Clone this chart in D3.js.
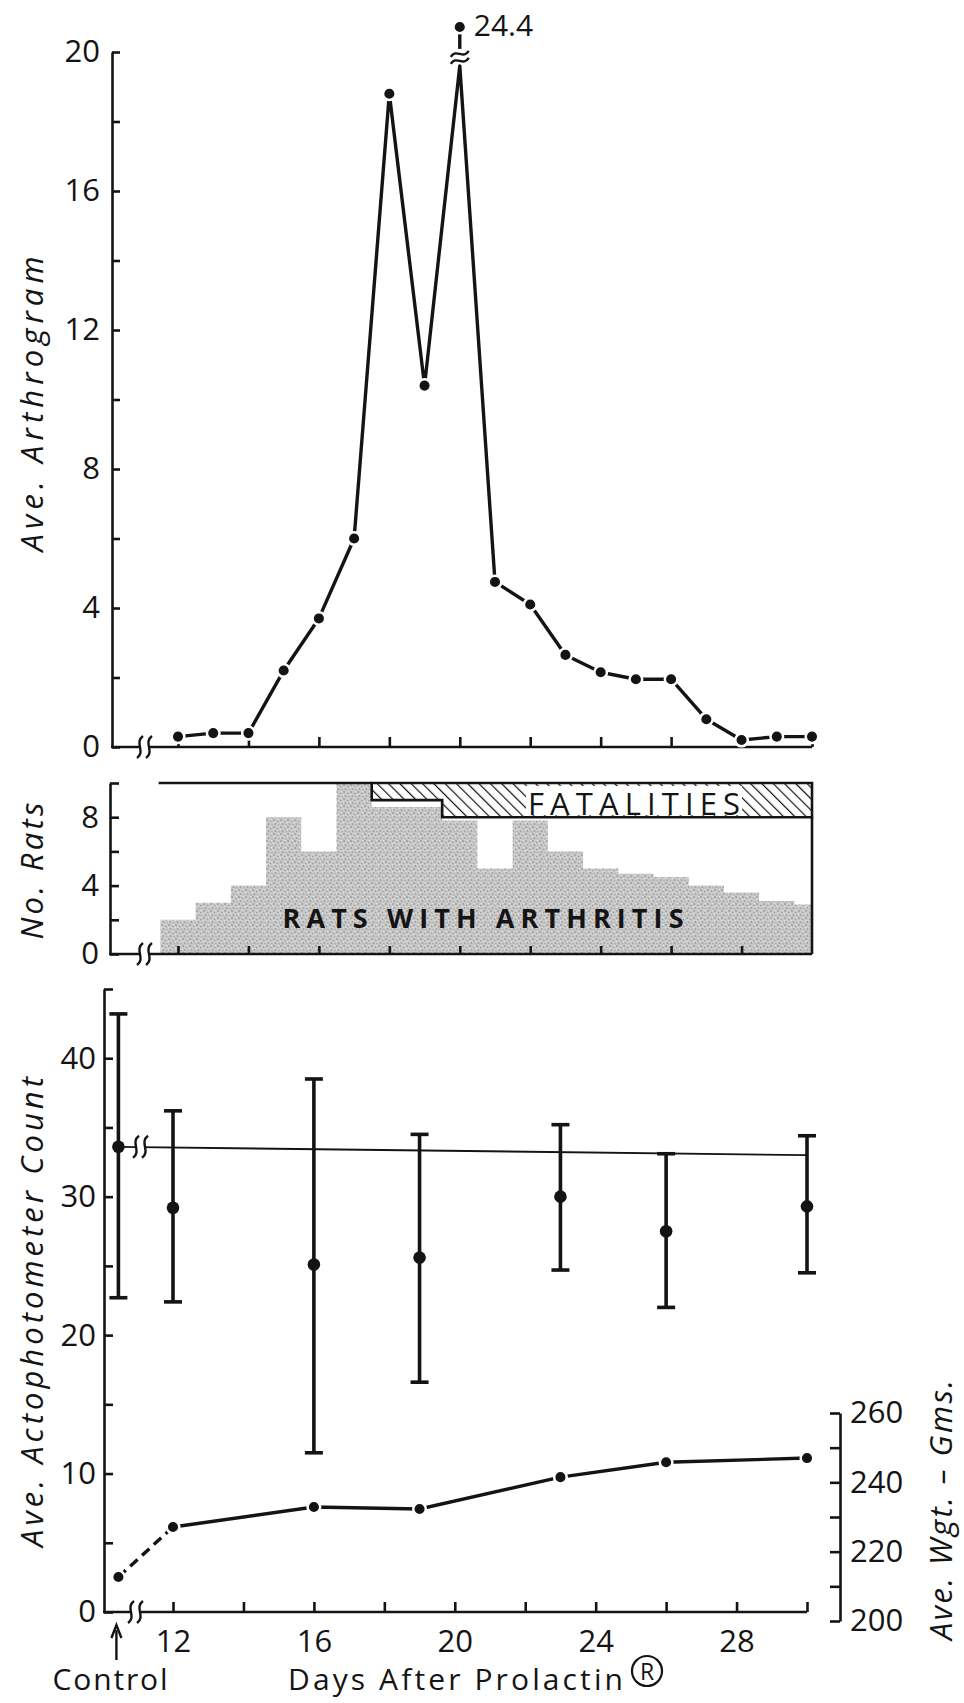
<!DOCTYPE html>
<html><head><meta charset="utf-8">
<script src="https://cdn.jsdelivr.net/npm/d3@7"></script>
<style>
html,body{margin:0;padding:0;background:#fff;}
svg{display:block;}
text{font-family:"Open Sans","DejaVu Sans",sans-serif;fill:#141414;}
</style></head><body>
<svg id="chart" width="964" height="1703"></svg>
<script>
// ---- Data ----------------------------------------------------------
// Days after Prolactin (daily observations)
const days = d3.range(12, 31);
// Average arthrogram score per day
const arthrogram = [0.3, 0.4, 0.4, 2.2, 3.7, 6.0, 18.8, 10.4, 24.4, 4.75, 4.1, 2.65, 2.15, 1.95, 1.95, 0.8, 0.2, 0.3, 0.3];
// Number of rats with arthritis per day (of 10)
const ratsWithArthritis = [2, 3, 4, 8, 6, 10, 8.6, 8.6, 7.8, 5, 7.8, 6, 5, 4.7, 4.5, 4, 3.6, 3.1, 2.9];
// Cumulative fatalities
const fatalityDays = d3.range(18, 31);
const fatalities = [1, 1, 2, 2, 2, 2, 2, 2, 2, 2, 2, 2, 2];

// Actophotometer counts (mean with range) and body weight
const actoGroups = ["Control", 12, 16, 19, 23, 26, 30];
const actoMean = [33.6, 29.2, 25.1, 25.6, 30.0, 27.5, 29.3];
const actoHigh = [43.2, 36.2, 38.5, 34.5, 35.2, 33.1, 34.4];
const actoLow  = [22.7, 22.4, 11.5, 16.6, 24.7, 22.0, 24.5];
const weightGms = [212.7, 227.1, 232.9, 232.3, 241.5, 245.8, 247.0];
// Control activity level carried across the treatment period (start, end)
const controlLevel = [33.6, 33.0];

// Tick values and labels
const arthroTicks = d3.range(0, 21, 2);
const arthroLabels = [0, 4, 8, 12, 16, 20];
const ratTicks = d3.range(0, 11, 2);
const ratLabels = [0, 4, 8];
const actoTicks = d3.range(0, 46, 5);
const actoLabels = [0, 10, 20, 30, 40];
const weightTicks = d3.range(200, 261, 10);
const weightLabels = [200, 220, 240, 260];
const dayTicks = d3.range(12, 31, 2);
const dayLabels = [12, 16, 20, 24, 28];

// ---- Setup ---------------------------------------------------------
const INK = "#141414";
const LW = 3.4;      // data line weight
const AW = 2.6;      // axis line weight
const R = 6.3;       // marker radius
const svg = d3.select("#chart");
const defs = svg.append("defs");

// stippled grey screen
const stip = defs.append("pattern").attr("id", "stipple")
  .attr("width", 7).attr("height", 7).attr("patternUnits", "userSpaceOnUse");
stip.append("rect").attr("width", 7).attr("height", 7).attr("fill", "#c8c8c8");
[[1,1,"#858585"],[4.5,2.5,"#9c9c9c"],[2.5,5,"#8f8f8f"],[6,5.8,"#ababab"],[5.5,0.3,"#e6e6e6"],[0.5,3.8,"#e2e2e2"],[3.3,3.2,"#dadada"]]
  .forEach(([cx, cy, c]) => stip.append("circle").attr("cx", cx).attr("cy", cy).attr("r", 0.8).attr("fill", c));

// diagonal hatching
const hatch = defs.append("pattern").attr("id", "hatch")
  .attr("width", 8).attr("height", 8).attr("patternUnits", "userSpaceOnUse")
  .attr("patternTransform", "rotate(-45)");
hatch.append("rect").attr("width", 8).attr("height", 8).attr("fill", "#fff");
hatch.append("line").attr("x1", 0).attr("y1", 0).attr("x2", 0).attr("y2", 8)
  .attr("stroke", INK).attr("stroke-width", 2.4);

// Break marks
function vSquiggle(g, cx, cy, h) {
  g.append("path")
    .attr("d", `M${cx + 3},${cy - h / 2} C${cx - 6},${cy - h / 5} ${cx + 6},${cy + h / 5} ${cx - 3},${cy + h / 2}`)
    .attr("fill", "none").attr("stroke", INK).attr("stroke-width", 2.4);
}
function hSquiggle(g, cx, cy, w) {
  g.append("path")
    .attr("d", `M${cx - w / 2},${cy + 3} C${cx - w / 5},${cy - 6} ${cx + w / 5},${cy + 6} ${cx + w / 2},${cy - 3}`)
    .attr("fill", "none").attr("stroke", INK).attr("stroke-width", 2.4);
}
function axisBreakH(g, cx, cy) {
  // break across a horizontal line
  g.append("rect").attr("x", cx - 5).attr("y", cy - 4).attr("width", 10).attr("height", 8).attr("fill", "#fff");
  vSquiggle(g, cx - 5, cy, 22);
  vSquiggle(g, cx + 4, cy, 22);
}
function styleAxis(g) {
  g.selectAll("path.domain").attr("stroke", INK).attr("stroke-width", AW);
  g.selectAll(".tick line").attr("stroke", INK).attr("stroke-width", AW);
  g.selectAll(".tick text").attr("font-size", 31).attr("fill", INK)
    .attr("font-family", '"Open Sans","DejaVu Sans",sans-serif');
}
function rotLabel(x, y, txt, len) {
  svg.append("text").attr("transform", `translate(${x},${y}) rotate(-90)`)
    .attr("text-anchor", "middle").attr("font-size", 31).style("font-style", "italic")
    .attr("textLength", len).attr("lengthAdjust", "spacing").text(txt);
}

// ---- Panel 1: average arthrogram ----------------------------------
const xTop = d3.scaleLinear().domain([12, 30]).range([178, 812]);
const yTopAxis = d3.scaleLinear().domain([0, 20]).range([747, 52]);
// broken scale: values beyond 20 are compressed above the break
const yTop = d3.scaleLinear().domain([0, 20, 24.4]).range([747, 52, 27]);
const ARTHRO_CAP = 19.6;

const p1 = svg.append("g");
p1.append("g").attr("transform", "translate(112,0)")
  .call(d3.axisLeft(yTopAxis).tickValues(arthroTicks).tickSize(-8).tickSizeOuter(0).tickPadding(12)
    .tickFormat(d => arthroLabels.includes(d) ? d : ""))
  .call(styleAxis);
p1.append("line").attr("x1", 111).attr("x2", xTop(30)).attr("y1", yTop(0)).attr("y2", yTop(0))
  .attr("stroke", INK).attr("stroke-width", AW);
p1.append("g").attr("transform", `translate(0,${yTop(0)})`)
  .call(d3.axisBottom(xTop).tickValues(dayTicks).tickSize(-10).tickSizeOuter(0).tickFormat(""))
  .call(g => g.select(".domain").remove())
  .call(styleAxis);
axisBreakH(p1, 145, yTop(0));

const arthroPts = days.map((d, i) => ({ d, v: arthrogram[i] }));
p1.append("path")
  .attr("d", d3.line().x(p => xTop(p.d)).y(p => yTop(Math.min(p.v, ARTHRO_CAP)))(arthroPts))
  .attr("fill", "none").attr("stroke", INK).attr("stroke-width", LW).attr("stroke-linejoin", "round");
// break on the off-scale peak
const peak = arthroPts.find(p => p.v > 20);
const px = xTop(peak.d);
p1.append("rect").attr("x", px - 12).attr("y", yTop(ARTHRO_CAP) - 14).attr("width", 24).attr("height", 12).attr("fill", "#fff");
hSquiggle(p1, px, yTop(ARTHRO_CAP) - 5, 18);
hSquiggle(p1, px, yTop(ARTHRO_CAP) - 12, 18);
p1.append("line").attr("x1", px).attr("x2", px).attr("y1", yTop(ARTHRO_CAP) - 17).attr("y2", yTop(peak.v) + 6)
  .attr("stroke", INK).attr("stroke-width", LW);
p1.selectAll("circle.ar").data(arthroPts).join("circle").attr("class", "ar")
  .attr("cx", p => xTop(p.d)).attr("cy", p => yTop(p.v)).attr("r", R)
  .attr("fill", INK).attr("stroke", "#fff").attr("stroke-width", 2.5);
p1.append("text").attr("x", px + 14).attr("y", yTop(peak.v) + 9).attr("font-size", 30)
  .text(peak.v.toFixed(1));
rotLabel(43, 404, "Ave. Arthrogram", 295);

// ---- Panel 2: number of rats ---------------------------------------
const yMid = d3.scaleLinear().domain([0, 10]).range([954, 783]);
const p2 = svg.append("g");
const ratSteps = days.map((d, i) => ({ x: d - 0.5, v: ratsWithArthritis[i] }));
ratSteps.push({ x: 30, v: ratsWithArthritis[ratsWithArthritis.length - 1] });
p2.append("path")
  .attr("d", d3.area().curve(d3.curveStepAfter).x(p => xTop(Math.min(p.x, 30))).y0(yMid(0)).y1(p => yMid(p.v))(ratSteps))
  .attr("fill", "url(#stipple)");
const fatalSteps = fatalityDays.map((d, i) => ({ x: d - 0.5, v: fatalities[i] }));
fatalSteps.push({ x: 30, v: fatalities[fatalities.length - 1] });
p2.append("path")
  .attr("d", d3.area().curve(d3.curveStepAfter).x(p => xTop(p.x)).y0(yMid(10)).y1(p => yMid(10 - p.v))(fatalSteps) + "Z")
  .attr("fill", "url(#hatch)").attr("stroke", INK).attr("stroke-width", AW);
// frame
p2.append("line").attr("x1", xTop(11.45)).attr("x2", xTop(17.5)).attr("y1", yMid(10)).attr("y2", yMid(10))
  .attr("stroke", INK).attr("stroke-width", AW);
p2.append("line").attr("x1", xTop(30)).attr("x2", xTop(30)).attr("y1", yMid(10 - 2)).attr("y2", yMid(0))
  .attr("stroke", INK).attr("stroke-width", AW);
p2.append("g").attr("transform", "translate(110,0)")
  .call(d3.axisLeft(yMid).tickValues(ratTicks).tickSize(-9).tickSizeOuter(0).tickPadding(11)
    .tickFormat(d => ratLabels.includes(d) ? d : ""))
  .call(styleAxis);
p2.append("line").attr("x1", 109).attr("x2", xTop(30)).attr("y1", yMid(0)).attr("y2", yMid(0))
  .attr("stroke", INK).attr("stroke-width", AW);
p2.append("g").attr("transform", `translate(0,${yMid(0)})`)
  .call(d3.axisBottom(xTop).tickValues(dayTicks.filter(d => d < 30)).tickSize(-8).tickSizeOuter(0).tickFormat(""))
  .call(g => g.select(".domain").remove())
  .call(styleAxis);
axisBreakH(p2, 145, yMid(0));
// fatalities label on a clear band
const fx = 634, fy = 815;
p2.append("rect").attr("x", fx - 108).attr("y", yMid(10) + 3).attr("width", 216).attr("height", yMid(8) - yMid(10) - 5).attr("fill", "#fff");
p2.append("text").attr("x", fx).attr("y", fy).attr("text-anchor", "middle").attr("font-size", 31)
  .attr("textLength", 212).attr("lengthAdjust", "spacing").text("FATALITIES");
p2.append("text").attr("x", 483).attr("y", 928).attr("text-anchor", "middle").attr("font-size", 27)
  .style("font-weight", 700).attr("textLength", 401).attr("lengthAdjust", "spacing").text("RATS WITH ARTHRITIS");
rotLabel(43, 871, "No. Rats", 137);

// ---- Panel 3: actophotometer count and weight ----------------------
const xBot = d3.scaleLinear().domain([12, 30]).range([173, 807]);
const CONTROL_AT = 10.45;   // where the control group sits on the day axis
const gx = g => xBot(g === "Control" ? CONTROL_AT : g);
const yAct = d3.scaleLinear().domain([0, 45]).range([1612, 989]);
const yWgt = d3.scaleLinear().domain([200, 260]).range([1621, 1413]);
const p3 = svg.append("g");

p3.append("g").attr("transform", "translate(104,0)")
  .call(d3.axisLeft(yAct).tickValues(actoTicks).tickSize(-9).tickSizeOuter(0).tickPadding(8)
    .tickFormat(d => actoLabels.includes(d) ? d : ""))
  .call(styleAxis);
p3.append("g").attr("transform", "translate(840,0)")
  .call(d3.axisRight(yWgt).tickValues(weightTicks).tickSize(-10).tickSizeOuter(0).tickPadding(10)
    .tickFormat(d => weightLabels.includes(d) ? d : ""))
  .call(styleAxis);
p3.append("line").attr("x1", 103).attr("x2", xBot(30)).attr("y1", yAct(0)).attr("y2", yAct(0))
  .attr("stroke", INK).attr("stroke-width", AW);
p3.append("g").attr("transform", `translate(0,${yAct(0)})`)
  .call(d3.axisBottom(xBot).tickValues(dayTicks).tickSize(-10).tickSizeOuter(0).tickPadding(18)
    .tickFormat(d => dayLabels.includes(d) ? d : ""))
  .call(g => g.select(".domain").remove())
  .call(styleAxis);
axisBreakH(p3, 136, yAct(0));

// control reference level
p3.append("line").attr("x1", gx("Control")).attr("x2", xBot(30))
  .attr("y1", yAct(controlLevel[0])).attr("y2", yAct(controlLevel[1]))
  .attr("stroke", INK).attr("stroke-width", 1.9);
axisBreakH(p3, 141, yAct(controlLevel[0]));

// range bars
const acto = actoGroups.map((g, i) => ({ g, m: actoMean[i], hi: actoHigh[i], lo: actoLow[i], w: weightGms[i] }));
const bars = p3.selectAll("g.bar").data(acto).join("g").attr("class", "bar");
bars.append("line").attr("x1", d => gx(d.g)).attr("x2", d => gx(d.g))
  .attr("y1", d => yAct(d.hi)).attr("y2", d => yAct(d.lo)).attr("stroke", INK).attr("stroke-width", 3.6);
bars.append("line").attr("x1", d => gx(d.g) - 9).attr("x2", d => gx(d.g) + 9)
  .attr("y1", d => yAct(d.hi)).attr("y2", d => yAct(d.hi)).attr("stroke", INK).attr("stroke-width", 3.6);
bars.append("line").attr("x1", d => gx(d.g) - 9).attr("x2", d => gx(d.g) + 9)
  .attr("y1", d => yAct(d.lo)).attr("y2", d => yAct(d.lo)).attr("stroke", INK).attr("stroke-width", 3.6);
bars.append("circle").attr("cx", d => gx(d.g)).attr("cy", d => yAct(d.m)).attr("r", R).attr("fill", INK);

// weight curve: dashed from control, solid across treatment days
const wLine = d3.line().x(d => gx(d.g)).y(d => yWgt(d.w));
p3.append("path").attr("d", wLine(acto.slice(0, 2)))
  .attr("fill", "none").attr("stroke", INK).attr("stroke-width", LW).attr("stroke-dasharray", "10,6");
p3.append("path").attr("d", wLine(acto.slice(1)))
  .attr("fill", "none").attr("stroke", INK).attr("stroke-width", LW);
p3.selectAll("circle.w").data(acto).join("circle").attr("class", "w")
  .attr("cx", d => gx(d.g)).attr("cy", d => yWgt(d.w)).attr("r", R)
  .attr("fill", INK).attr("stroke", "#fff").attr("stroke-width", 2.5);

// control marker and axis captions
const cx0 = gx("Control") - 2;
p3.append("line").attr("x1", cx0).attr("x2", cx0).attr("y1", 1660).attr("y2", 1630)
  .attr("stroke", INK).attr("stroke-width", 2.4);
p3.append("path").attr("d", `M${cx0 - 5},${1638} L${cx0},${1625} L${cx0 + 5},${1638}`)
  .attr("fill", "none").attr("stroke", INK).attr("stroke-width", 2.4);
p3.append("text").attr("x", 110).attr("y", 1690).attr("text-anchor", "middle").attr("font-size", 30)
  .attr("textLength", 115).attr("lengthAdjust", "spacing").text("Control");
p3.append("text").attr("x", 288).attr("y", 1690).attr("font-size", 30)
  .attr("textLength", 335).attr("lengthAdjust", "spacing").text("Days After Prolactin");
p3.append("circle").attr("cx", 647).attr("cy", 1671).attr("r", 15).attr("fill", "none")
  .attr("stroke", INK).attr("stroke-width", 2.2);
p3.append("text").attr("x", 647).attr("y", 1680).attr("text-anchor", "middle").attr("font-size", 23).text("R");

rotLabel(43, 1312, "Ave. Actophotometer Count", 470);
rotLabel(952, 1510, "Ave. Wgt. \u2013 Gms.", 260);
</script>
</body></html>
